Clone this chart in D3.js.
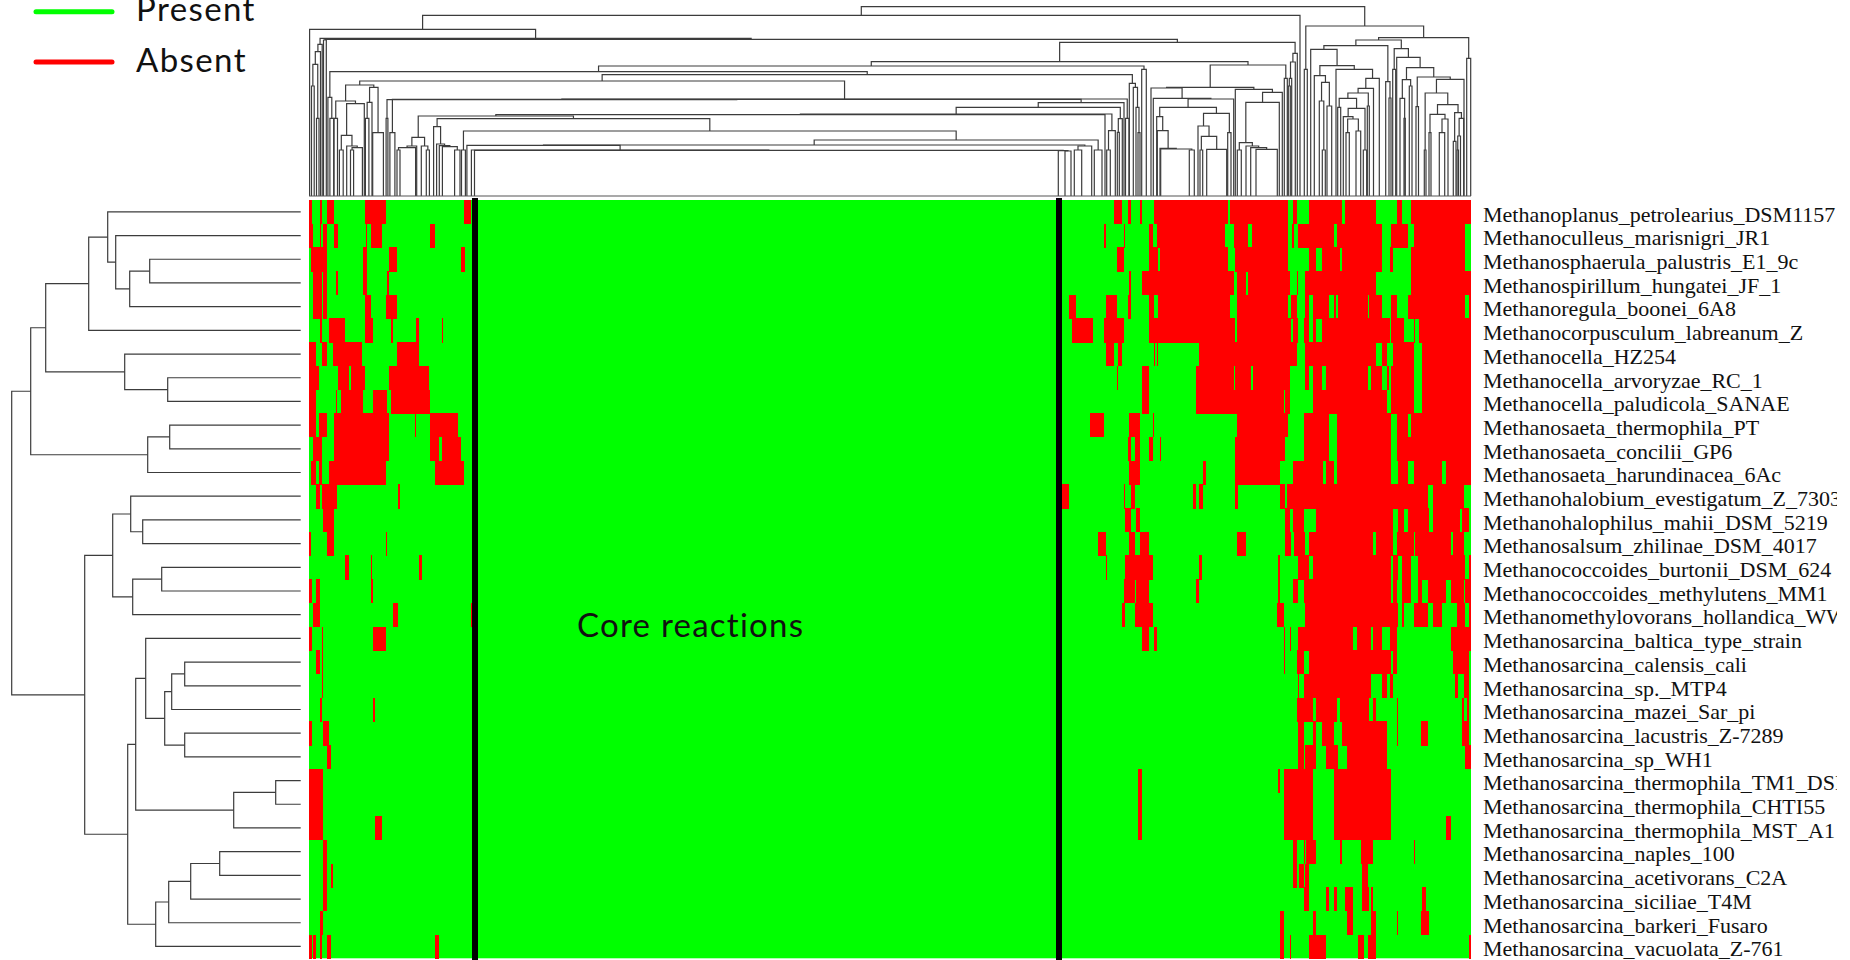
<!DOCTYPE html>
<html>
<head>
<meta charset="utf-8">
<title>Core reactions heatmap</title>
<script src="https://cdn.jsdelivr.net/npm/d3@7"></script>
<style>
  body { margin: 0; background: #fff; overflow: hidden; }
  svg { display: block; }
</style>
</head>
<body>
<svg id="chart" width="1850" height="960"></svg>
<script>
const legendItems = ["Present", "Absent"];
const stateColors = { Present: "#00ff00", Absent: "#ff0000" };
const coreLabel = "Core reactions";

const rowNames = [
  "Methanoplanus_petrolearius_DSM1157", "Methanoculleus_marisnigri_JR1", "Methanosphaerula_palustris_E1_9c",
  "Methanospirillum_hungatei_JF_1", "Methanoregula_boonei_6A8", "Methanocorpusculum_labreanum_Z",
  "Methanocella_HZ254", "Methanocella_arvoryzae_RC_1", "Methanocella_paludicola_SANAE",
  "Methanosaeta_thermophila_PT", "Methanosaeta_concilii_GP6", "Methanosaeta_harundinacea_6Ac",
  "Methanohalobium_evestigatum_Z_7303", "Methanohalophilus_mahii_DSM_5219", "Methanosalsum_zhilinae_DSM_4017",
  "Methanococcoides_burtonii_DSM_624", "Methanococcoides_methylutens_MM1", "Methanomethylovorans_hollandica_WWW",
  "Methanosarcina_baltica_type_strain", "Methanosarcina_calensis_cali", "Methanosarcina_sp._MTP4",
  "Methanosarcina_mazei_Sar_pi", "Methanosarcina_lacustris_Z-7289", "Methanosarcina_sp_WH1",
  "Methanosarcina_thermophila_TM1_DSM", "Methanosarcina_thermophila_CHTI55", "Methanosarcina_thermophila_MST_A1",
  "Methanosarcina_naples_100", "Methanosarcina_acetivorans_C2A", "Methanosarcina_siciliae_T4M",
  "Methanosarcina_barkeri_Fusaro", "Methanosarcina_vacuolata_Z-761"
];

// reaction columns run 0..columnCount, core block sits between coreBounds
const columnCount = 1162;
const coreBounds = [166, 750];

// absent runs [from, to] in each row, left of the core block
const absentLeft = [
  [[0,3],[11,13],[18,25],[56,77],[155,162]],
  [[0,4],[11,12],[14,18],[25,29],[57,58],[62,73],[121,126]],
  [[2,18],[54,58],[80,88],[152,156]],
  [[4,13],[14,18],[27,29],[54,58],[78,80]],
  [[4,13],[14,18],[56,62],[77,88]],
  [[11,13],[20,36],[56,64],[82,84],[107,110],[133,134]],
  [[0,7],[13,18],[24,53],[88,110]],
  [[0,10],[29,40],[42,56],[80,120]],
  [[0,7],[27,28],[32,54],[64,78],[82,121]],
  [[0,7],[10,18],[25,80],[106,107],[121,149]],
  [[4,13],[25,80],[121,130],[133,152]],
  [[2,7],[10,13],[20,77],[126,155]],
  [[7,11],[13,28],[89,91]],
  [[14,25]],
  [[0,2],[18,25],[77,78]],
  [[36,40],[62,63],[110,113]],
  [[0,3],[7,11],[62,64]],
  [[4,11],[84,89],[162,163]],
  [[0,3],[13,14],[64,77]],
  [[7,11],[13,14]],
  [[13,14]],
  [[11,13],[64,66]],
  [[0,3],[14,20]],
  [[18,22]],
  [[0,14]],
  [[0,14]],
  [[0,14],[66,73]],
  [[14,18]],
  [[14,18],[22,24]],
  [[14,18]],
  [[11,14]],
  [[0,3],[4,7],[11,13],[18,22],[126,130]]
];

// absent runs right of the core block
const absentRight = [
  [[805,813],[819,822],[831,833],[845,919],[921,979],[984,988],[1000,1033],[1036,1067],[1088,1093],[1102,1162]],
  [[795,797],[815,816],[840,844],[848,916],[925,939],[943,979],[983,985],[989,995],[995,1025],[1028,1073],[1082,1099],[1105,1156]],
  [[808,815],[840,849],[851,919],[926,979],[1000,1007],[1013,1031],[1033,1073],[1081,1084],[1102,1156]],
  [[820,822],[833,925],[928,937],[939,981],[988,989],[996,1067],[1102,1162]],
  [[760,767],[797,808],[819,822],[840,845],[849,921],[928,979],[982,988],[996,1000],[1004,1020],[1025,1027],[1029,1059],[1060,1073],[1082,1088],[1099,1156],[1160,1162]],
  [[763,784],[795,815],[840,926],[928,982],[984,989],[995,1000],[1004,1007],[1013,1081],[1082,1095],[1105,1106],[1110,1162]],
  [[797,805],[809,813],[845,846],[848,849],[890,988],[996,1067],[1073,1078],[1084,1105],[1113,1162]],
  [[808,809],[833,840],[887,925],[926,942],[944,981],[996,1000],[1004,1013],[1017,1059],[1062,1073],[1078,1080],[1082,1105],[1113,1162]],
  [[833,840],[887,975],[976,981],[1004,1078],[1082,1105],[1113,1162]],
  [[781,795],[820,831],[844,845],[928,979],[995,1020],[1028,1082],[1088,1099],[1102,1162]],
  [[819,822],[826,831],[840,844],[851,852],[926,976],[995,1020],[1028,1082],[1088,1162]],
  [[820,831],[894,897],[926,971],[984,1014],[1017,1025],[1028,1082],[1089,1099],[1105,1133],[1137,1162]],
  [[753,760],[815,816],[822,826],[884,887],[890,894],[926,929],[971,976],[978,1119],[1124,1155]],
  [[816,822],[827,831],[976,981],[984,995],[1007,1084],[1089,1095],[1099,1120],[1124,1151],[1153,1160]],
  [[789,797],[820,826],[831,840],[928,937],[976,982],[985,996],[1000,1064],[1067,1084],[1088,1105],[1106,1142],[1144,1155]],
  [[797,798],[816,844],[890,893],[969,971],[989,1000],[1004,1082],[1084,1089],[1093,1102],[1109,1156],[1160,1162]],
  [[815,826],[827,840],[887,890],[969,971],[984,989],[995,1082],[1084,1088],[1093,1102],[1109,1113],[1119,1137],[1142,1155],[1156,1162]],
  [[813,816],[826,844],[968,975],[996,1089],[1093,1095],[1105,1119],[1124,1133],[1148,1156],[1160,1162]],
  [[833,840],[845,848],[975,976],[981,982],[989,1044],[1048,1062],[1064,1073],[1081,1088],[1142,1162]],
  [[975,976],[988,995],[1000,1082],[1084,1088],[1144,1160]],
  [[989,990],[995,1062],[1073,1078],[1081,1084],[1146,1149],[1155,1160]],
  [[988,1004],[1007,1028],[1031,1060],[1064,1067],[1088,1089],[1153,1155],[1158,1160]],
  [[989,995],[1004,1007],[1013,1025],[1033,1078],[1088,1089],[1112,1119],[1153,1160]],
  [[989,995],[996,1007],[1017,1029],[1038,1078],[1156,1162]],
  [[829,833],[969,971],[975,1004],[1025,1082]],
  [[829,833],[975,1004],[1025,1082]],
  [[829,833],[975,1004],[1025,1082],[1137,1142]],
  [[984,988],[995,996],[997,1007],[1031,1033],[1052,1064],[1105,1106]],
  [[984,988],[990,995],[996,1000],[1053,1059]],
  [[995,1000],[1017,1020],[1025,1028],[1036,1044],[1053,1060],[1062,1064],[1113,1117]],
  [[971,975],[1004,1007],[1038,1044],[1062,1067],[1088,1089],[1112,1120]],
  [[971,975],[981,982],[1000,1017],[1049,1055],[1059,1067],[1160,1162]]
];

// row clustering: [height, left, right], a bare number is a row index
const rowTree =
  [289,
    [270,
      [255,
        [212, [193, 0, [185, 1, [171, [151, 2, 3], 4]]], 5],
        [176, 6, [133, 7, 8]]],
      [153, [131, 9, 10], 11]],
    [216,
      [188, [170, 12, [158, 13, 14]], [168, [139, 15, 16], 17]],
      [173,
        [165,
          [155, 18, [136, [129, [116, 19, 20], 21], [116, 22, 23]]],
          [67, [25, 24, 25], 26]],
        [145, [132, [110, [81, 27, 28], 29], 30], 31]]]];

// column clustering: same shape, a bare number is a column position
const towerBranch = [151.7, [144.3, [131.7, [110, 2.5, 5.2], [77.7, 7.5, 10]], 11.5], 13.2];
const leftSmall = [111,
  [95, [77.7, 25, 28.5], [92.3, [60.7, [46, 30.4, 34.2], [50, 37.7, [48.3, [46, 41.5, 44.6], 53.4]]], 55.3]],
  [108.7, [93.7, [77.7, 56.4, 59.9], 63], [63.3, 63.7, 74.4]]];
const coreBranch = [51,
  [50.7, 157.9, [46, 162.4, [45.7, 165.5, [45.3, 749.3, [45, 756, 762]]]]],
  [50, [46, 765.3, 772.7], 782.7]];
const midBranch = [80,
  [58.7, [50, [48.3, [46, 88, 91], 106.6], 107.7], [50, 112.3, [46, 117.3, 120.4]]],
  [77.3,
    [69.3, 124.6, [52, 127.6, [50.3, 130.3, [49.3, 133.4, [46, 145.6, 151]]]]],
    [65, [46, 152.5, 156.4], [56, coreBranch, [46, 785.3, 793]]]]];
const chainBranch = [96.3,
  [77.7, 77.1, 78.9],
  [96.7,
    [63.3, 80.9, 85.9],
    [93.3,
      [88.7,
        [82, [81.3, midBranch, 796], [65.3, [46, 797.7, 801.3], 806.3]],
        [77.3, [63.7, 808.3, 810.3], 813.3]],
      815]]];
const upperRight = [131,
  [108.7,
    [108, 842,
      [97.7, 844.3,
        [97,
          [88.7,
            [79.3, 847.7, [65.3, 848.3, [47.7, 851, [47, 851.7, [46, 880.3, 885.3]]]]],
            [82.7,
              [70, 889, [59.7, [46, 891, 893.7], [46.7, 897.7, 917.7]]],
              [63.3, 918.7, 922]]],
          924.7]]],
    [106.7, 926.3,
      [103.7,
        [93.7,
          [53.3, [46, 928.3, 932.3], [50, 937, [48.3, 941.7, [46.7, 947, 968.3]]]],
          970.3],
        973.3]]],
  [117.7, 975.3, 978.3]];
const rightCluster = [170,
  [126.7, 995.3, 998.3],
  [158.3,
    [156,
      [150.3,
        [146.7, 1001.7,
          [130.3,
            [120.3, 1005.3,
              [113.7,
                [95, 1010.3, [46, 1013.3, 1016.3]],
                [90, 1018, 1022.7]]],
            [126.7, 1027,
              [117.7,
                [107.7,
                  [103,
                    [97.7,
                      [88.7, 1028.7, 1031.7],
                      [87.7,
                        [79.3, 1034.3, [77, [63.3, 1037, 1040.3], [65, 1047, 1051.7]]],
                        [46, 1054.3, 1057.7]]],
                    [90, 1058.3, 1060.3]],
                  1064.5],
                1070.3]]]],
        [114.3, 1076.7, [98, 1080, 1082]]],
      [147.3,
        [126.7, 1083.7, 1086.7],
        [138.7, 1087.7,
          [128.3,
            [116.3,
              [97.7, 1091, [77.7, 1095, 1096.3]],
              [110, 1100.3, 1103]],
            [119,
              [89.3, 1107, 1109.5],
              [116.7,
                [103,
                  [46, 1115.3, 1117],
                  [91.3,
                    [81.7,
                      [63.3, 1120, 1122],
                      [77, [63.3, 1130.3, 1135.7], 1139]],
                    [83.3,
                      [54.7, 1144.3, 1147],
                      [77.7, [60, [46, 1148, 1149.5], 1151.5], 1154.7]]]],
                1155]]]]]],
    [137.7, 1157.7, 1161.7]]];

const colTree =
  [189.3,
    [180.7,
      [166.7, 0.6,
        [157.7,
          towerBranch,
          [156.7,
            [156, 14.5, 17.3],
            [153.7,
              [134.3,
                [130,
                  [124.3,
                    [98.7, 18.9, [77.7, 20.9, 24.7]],
                    [121.3,
                      [115, leftSmall, [97, chainBranch, [77.7, 816.5, 820]]],
                      [112.7, 820.3, [108.7, 824.3, [88.7, 827, [63.3, 829, 831]]]]]],
                  [126.7, 832.7, 837.3]],
                upperRight],
              [142.7,
                [134, [117.7, [110, 979.3, 981.3], 982.7], 986.3],
                988.3]]]]],
      991],
    rightCluster];

const svg = d3.select("#chart");

const xCol = d3.scaleLinear().domain([0, columnCount]).range([309, 1471]);
const yRow = d3.scaleBand().domain(d3.range(rowNames.length)).range([200, 958.3]);
const colHeight = d3.scaleLinear().domain([0, 196]).range([196, 0]);
const rowHeight = d3.scaleLinear().domain([0, 289]).range([300.7, 11.7]);

// heatmap: green ground, absent runs on top
svg.append("rect")
   .attr("x", xCol(0))
   .attr("y", yRow.range()[0])
   .attr("width", xCol(columnCount) - xCol(0))
   .attr("height", yRow.range()[1] - yRow.range()[0])
   .attr("fill", stateColors.Present);

const runs = [];
rowNames.forEach((name, i) => {
  absentLeft[i].concat(absentRight[i]).forEach(r => runs.push({ row: i, from: r[0], to: r[1] }));
});

svg.append("g")
   .attr("shape-rendering", "crispEdges")
   .selectAll("rect")
   .data(runs)
   .enter()
   .append("rect")
   .attr("x", d => xCol(d.from))
   .attr("y", d => yRow(d.row))
   .attr("width", d => xCol(d.to) - xCol(d.from))
   .attr("height", yRow.bandwidth() + 0.5)
   .attr("fill", stateColors.Absent);

// core block edges
svg.append("g")
   .selectAll("line")
   .data(coreBounds)
   .enter()
   .append("line")
   .attr("x1", d => xCol(d))
   .attr("x2", d => xCol(d))
   .attr("y1", 198)
   .attr("y2", 960)
   .attr("stroke", "#000")
   .attr("stroke-width", 6);

svg.append("text")
   .attr("x", 577)
   .attr("y", 637)
   .style("font-family", "Lato, 'Open Sans', sans-serif")
   .style("font-size", "33px")
   .style("letter-spacing", "1.25px")
   .attr("fill", "#111")
   .text(coreLabel);

// row labels, clipped at the edge of the pasted picture
svg.append("clipPath")
   .attr("id", "labelClip")
   .append("rect")
   .attr("x", 1470)
   .attr("y", 190)
   .attr("width", 367)
   .attr("height", 770);

svg.append("g")
   .attr("clip-path", "url(#labelClip)")
   .selectAll("text")
   .data(rowNames)
   .enter()
   .append("text")
   .attr("x", 1483)
   .attr("y", (d, i) => yRow(i) + yRow.bandwidth() / 2 + 9.8)
   .style("font-family", "'Liberation Serif', serif")
   .style("font-size", "22px")
   .attr("fill", "#111")
   .text(d => d);

// walk a nested tree, each node takes the midpoint of its two children
function layoutTree(tree, leafPos) {
  const root = d3.hierarchy(tree, d => Array.isArray(d) ? d.slice(1) : null);
  root.eachAfter(n => {
    n.h = n.children ? n.data[0] : 0;
    n.pos = n.children ? (n.children[0].pos + n.children[1].pos) / 2 : leafPos(n.data);
  });
  return root.descendants().filter(n => n.children);
}

const colNodes = layoutTree(colTree, c => xCol(c));
const rowNodes = layoutTree(rowTree, i => yRow(i) + yRow.bandwidth() / 2);

svg.append("g")
   .selectAll("path")
   .data(colNodes)
   .enter()
   .append("path")
   .attr("fill", "none")
   .attr("stroke", "#3c3c3c")
   .attr("stroke-width", 1.2)
   .attr("d", n => {
     const a = n.children[0], b = n.children[1];
     return `M${a.pos},${colHeight(a.h)}V${colHeight(n.h)}H${b.pos}V${colHeight(b.h)}`;
   });

// flat zero height merges along the bottom of the tree
svg.append("line")
   .attr("x1", xCol(0))
   .attr("x2", xCol(columnCount))
   .attr("y1", colHeight(0))
   .attr("y2", colHeight(0))
   .attr("stroke", "#555")
   .attr("stroke-width", 1.2);

svg.append("g")
   .selectAll("path")
   .data(rowNodes)
   .enter()
   .append("path")
   .attr("fill", "none")
   .attr("stroke", "#3c3c3c")
   .attr("stroke-width", 1.2)
   .attr("d", n => {
     const a = n.children[0], b = n.children[1];
     return `M${rowHeight(a.h)},${a.pos}H${rowHeight(n.h)}V${b.pos}H${rowHeight(b.h)}`;
   });

// legend
const legendY = d3.scalePoint().domain(legendItems).range([11.7, 62]);

const legend = svg.append("g")
   .selectAll("g")
   .data(legendItems)
   .enter()
   .append("g");

legend.append("line")
   .attr("x1", 36)
   .attr("x2", 112)
   .attr("y1", d => legendY(d))
   .attr("y2", d => legendY(d))
   .attr("stroke", d => stateColors[d])
   .attr("stroke-width", 5)
   .attr("stroke-linecap", "round");

legend.append("text")
   .attr("x", 136)
   .attr("y", d => legendY(d) + 9.6)
   .style("font-family", "Lato, 'Open Sans', sans-serif")
   .style("font-size", "33px")
   .style("letter-spacing", "1.4px")
   .attr("fill", "#111")
   .text(d => d);
</script>
</body>
</html>
